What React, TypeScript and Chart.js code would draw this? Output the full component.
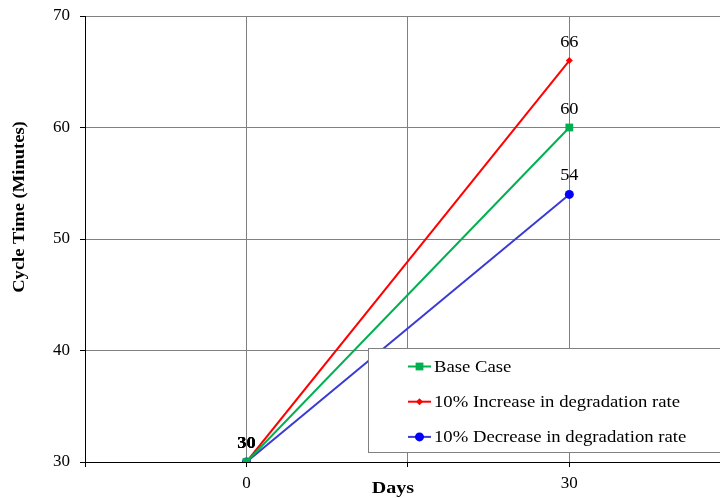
import React, { useEffect, useRef } from "react";
import { Chart, registerables } from "chart.js";

Chart.register(...registerables);

const DAYS = [0, 30];
const BASE_CASE = [30, 60];
const INCREASE = [30, 66];
const DECREASE = [30, 54];
const SERIES_LABELS = [
  "Base Case",
  "10% Increase in degradation rate",
  "10% Decrease in degradation rate",
];
const X_GRID = [-15, 0, 15, 30];
const X_LABELS = [0, 30];
const Y_TICKS = [30, 40, 50, 60, 70];

const FONT = "'Liberation Serif', 'Times New Roman', serif";

const toPoints = (ys: number[]) => DAYS.map((d, i) => ({ x: d, y: ys[i] }));

// draws text stretched horizontally (reference font renders wider)
function wideText(ctx: any, text: string, x: number, y: number, sx: number, align: string) {
  ctx.save();
  ctx.translate(x, y);
  ctx.scale(sx, 1);
  ctx.textAlign = align;
  ctx.fillText(text, 0, 0);
  ctx.restore();
}

const dataLabelPlugin = {
  id: "dataLabels",
  afterDatasetsDraw(chart: any) {
    const ctx = chart.ctx;
    ctx.save();
    ctx.fillStyle = "#000";
    ctx.textBaseline = "alphabetic";
    chart.data.datasets.forEach((ds: any, di: number) => {
      const meta = chart.getDatasetMeta(di);
      meta.data.forEach((pt: any, i: number) => {
        const v = ds.data[i].y;
        ctx.font = (i === 0 ? "bold " : "") + "17px " + FONT;
        wideText(ctx, String(v), pt.x, pt.y - 14, 1.08, "center");
      });
    });
    ctx.restore();
  },
};

const legendPlugin = {
  id: "boxLegend",
  afterDraw(chart: any) {
    const ctx = chart.ctx;
    const left = 368;
    const top = 348;
    const bottom = 452;
    ctx.save();
    ctx.fillStyle = "#fff";
    ctx.fillRect(left, top, 400, bottom - top);
    ctx.strokeStyle = "#808080";
    ctx.lineWidth = 1;
    ctx.strokeRect(left + 0.5, top + 0.5, 400, bottom - top);
    chart.data.datasets.forEach((ds: any, i: number) => {
      const cy = 366.5 + i * 35.2;
      ctx.strokeStyle = ds.borderColor;
      ctx.lineWidth = 2;
      ctx.beginPath();
      ctx.moveTo(408, cy);
      ctx.lineTo(431, cy);
      ctx.stroke();
      ctx.fillStyle = ds.pointBackgroundColor;
      ctx.beginPath();
      if (ds.pointStyle === "rect") {
        const s = 3.9;
        ctx.rect(419.5 - s, cy - s, 2 * s, 2 * s);
      } else if (ds.pointStyle === "rectRot") {
        const r = ds.pointRadius;
        ctx.moveTo(419.5, cy - r);
        ctx.lineTo(419.5 + r, cy);
        ctx.lineTo(419.5, cy + r);
        ctx.lineTo(419.5 - r, cy);
        ctx.closePath();
      } else {
        ctx.arc(419.5, cy, ds.pointRadius, 0, Math.PI * 2);
      }
      ctx.fill();
      ctx.fillStyle = "#000";
      ctx.font = "17px " + FONT;
      ctx.textBaseline = "alphabetic";
      wideText(ctx, ds.label, 434, cy + 5.5, 1.1, "left");
    });
    ctx.restore();
  },
};

const titlesPlugin = {
  id: "axisTitles",
  afterDraw(chart: any) {
    const ctx = chart.ctx;
    ctx.save();
    ctx.fillStyle = "#000";
    ctx.font = "bold 17px " + FONT;
    ctx.textBaseline = "middle";
    wideText(ctx, "Days", 393, 489, 1.18, "center");
    ctx.translate(20, 207);
    ctx.rotate(-Math.PI / 2);
    wideText(ctx, "Cycle Time (Minutes)", 0, 0, 1.09, "center");
    ctx.restore();
  },
};

const noPad = (s: any) => {
  s.paddingTop = 0;
  s.paddingBottom = 0;
  s.paddingLeft = 0;
  s.paddingRight = 0;
};

export default function App() {
  const ref = useRef<HTMLCanvasElement | null>(null);

  useEffect(() => {
    document.body.style.margin = "0";
    if (!ref.current) return;
    const chart = new Chart(ref.current, {
      type: "line",
      data: {
        datasets: [
          {
            label: SERIES_LABELS[0],
            data: toPoints(BASE_CASE),
            borderColor: "#00B050",
            backgroundColor: "#00B050",
            pointBackgroundColor: "#00B050",
            pointBorderWidth: 0,
            pointStyle: "rect",
            pointRadius: 5.5,
            borderWidth: 2,
          },
          {
            label: SERIES_LABELS[1],
            data: toPoints(INCREASE),
            borderColor: "#FF0000",
            backgroundColor: "#FF0000",
            pointBackgroundColor: "#FF0000",
            pointBorderWidth: 0,
            pointStyle: "rectRot",
            pointRadius: 3.5,
            borderWidth: 2,
          },
          {
            label: SERIES_LABELS[2],
            data: toPoints(DECREASE),
            borderColor: "#3A3AD6",
            backgroundColor: "#0000FF",
            pointBackgroundColor: "#0000FF",
            pointBorderWidth: 0,
            pointStyle: "circle",
            pointRadius: 4.5,
            borderWidth: 2,
          },
        ] as any,
      },
      options: {
        animation: false,
        responsive: true,
        maintainAspectRatio: false,
        layout: { autoPadding: false, padding: { top: 16, left: 0, right: 0, bottom: 0 } },
        plugins: {
          legend: { display: false },
          tooltip: { enabled: false },
          title: { display: false },
        },
        scales: {
          x: {
            type: "linear",
            min: -15,
            max: 44,
            afterBuildTicks: (s: any) => {
              s.ticks = X_GRID.map((v) => ({ value: v }));
            },
            afterFit: (s: any) => {
              s.height = 36;
              noPad(s);
            },
            ticks: {
              color: "#000",
              font: { family: FONT, size: 17 },
              padding: 6,
              maxRotation: 0,
              autoSkip: false,
              callback: (v: any) => (X_LABELS.includes(Number(v)) ? String(v) : ""),
            },
            grid: {
              color: "#808080",
              lineWidth: 1,
              tickColor: "#000",
              tickLength: 5,
            },
            border: { color: "#000", width: 1 },
          },
          y: {
            type: "linear",
            min: Y_TICKS[0],
            max: Y_TICKS[Y_TICKS.length - 1],
            afterBuildTicks: (s: any) => {
              s.ticks = Y_TICKS.map((v) => ({ value: v }));
            },
            afterFit: (s: any) => {
              s.width = 85;
              noPad(s);
            },
            ticks: {
              color: "#000",
              font: { family: FONT, size: 17 },
              padding: 10,
              autoSkip: false,
            },
            grid: {
              color: "#808080",
              lineWidth: 1,
              tickColor: "#000",
              tickLength: 5,
            },
            border: { color: "#000", width: 1 },
          },
        },
      } as any,
      plugins: [dataLabelPlugin, legendPlugin, titlesPlugin],
    });
    return () => chart.destroy();
  }, []);

  return (
    <div style={{ position: "absolute", left: 0, top: 0, width: 720, height: 498 }}>
      <canvas ref={ref} />
    </div>
  );
}
